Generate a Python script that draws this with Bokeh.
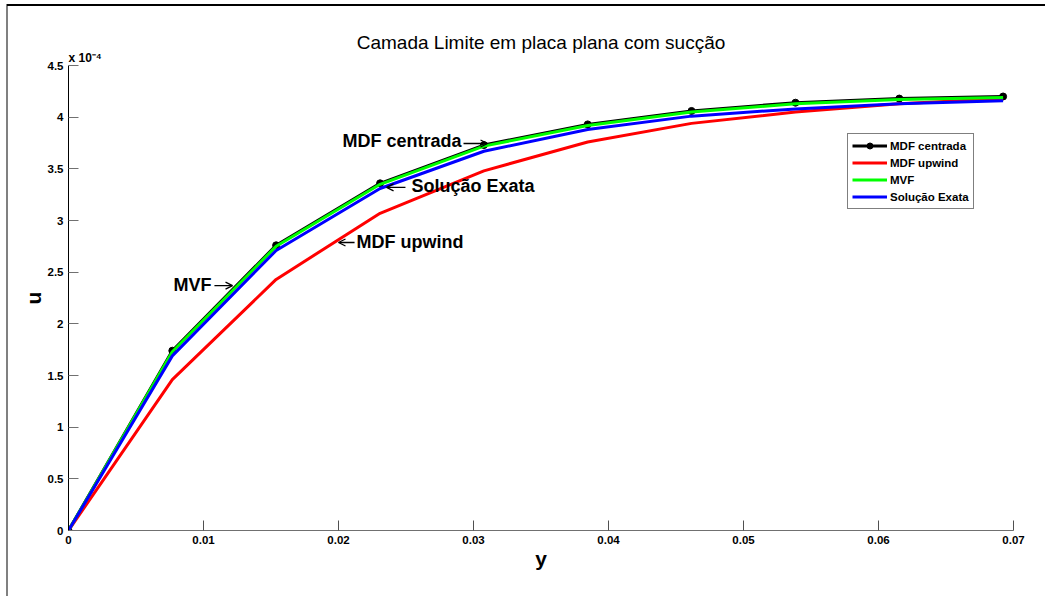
from bokeh.plotting import figure
from bokeh.models import (Label, Legend, LegendItem, FixedTicker, Title,
                          CustomJSTickFormatter, Range1d, Arrow, OpenHead)
from bokeh.embed import file_html
from bokeh.resources import INLINE

# distance from the plate (m) and velocity profiles u(y)
y_pos = [0.0, 0.00769, 0.01538, 0.02308, 0.03077, 0.03846,
         0.04615, 0.05385, 0.06154, 0.06923]
u_centrada = [0.0, 1.74e-4, 2.76e-4, 3.36e-4, 3.73e-4, 3.93e-4,
              4.06e-4, 4.14e-4, 4.18e-4, 4.20e-4]
u_upwind = [0.0, 1.46e-4, 2.43e-4, 3.07e-4, 3.48e-4, 3.76e-4,
            3.94e-4, 4.05e-4, 4.13e-4, 4.18e-4]
u_mvf = [0.0, 1.73e-4, 2.75e-4, 3.35e-4, 3.72e-4, 3.92e-4,
         4.05e-4, 4.13e-4, 4.17e-4, 4.19e-4]
u_exata = [0.0, 1.69e-4, 2.71e-4, 3.31e-4, 3.67e-4, 3.88e-4,
           4.01e-4, 4.08e-4, 4.13e-4, 4.16e-4]

x_ticks = [0, 0.01, 0.02, 0.03, 0.04, 0.05, 0.06, 0.07]
y_ticks = [0, 0.5e-4, 1e-4, 1.5e-4, 2e-4, 2.5e-4, 3e-4, 3.5e-4, 4e-4, 4.5e-4]

FONT = "Liberation Sans"

p = figure(width=1045, height=596,
           x_range=Range1d(0, 0.07), y_range=Range1d(0, 4.5e-4),
           output_backend="svg", toolbar_location=None, tools="",
           min_border_left=68, min_border_right=32,
           min_border_top=65, min_border_bottom=66,
           background_fill_color="white", border_fill_color=None)
p.outline_line_color = None
p.grid.visible = False

# window edges: black line on top, grey line on the left
p.styles = {
    "background-color": "white",
    "background-image": "linear-gradient(#000000, #000000), "
                        "linear-gradient(#808080, #808080)",
    "background-size": "100% 2px, 2px 100%",
    "background-position": "7px 4px, 6px 4px",
    "background-repeat": "no-repeat",
}

# power-of-ten factor for the u axis, right above the frame
p.add_layout(Title(text="x 10\u207b\u2074", align="left", offset=0,
                   standoff=2, text_font=FONT, text_font_style="bold",
                   text_font_size="12px", text_color="black"), "above")

p.title.text = "Camada Limite em placa plana com sucção"
p.title.align = "center"
p.title.text_font = FONT
p.title.text_font_size = "19px"
p.title.text_font_style = "normal"
p.title.text_color = "black"
p.title.standoff = -11

for ax in (p.xaxis[0], p.yaxis[0]):
    ax.major_tick_in = 10
    ax.major_tick_out = 0
    ax.minor_tick_line_color = None
    ax.major_label_text_font = FONT
    ax.major_label_text_font_style = "bold"
    ax.major_label_text_font_size = "11.5px"
    ax.major_label_text_color = "black"
    ax.axis_label_text_font = FONT
    ax.axis_label_text_font_style = "bold"
    ax.axis_label_text_font_size = "21px"
    ax.axis_label_text_color = "black"

xa = p.xaxis[0]
xa.ticker = FixedTicker(ticks=x_ticks)
xa.formatter = CustomJSTickFormatter(code="return tick == 0 ? '0' : tick.toFixed(2);")
xa.axis_label = "y"
xa.axis_line_color = "#707070"
xa.major_tick_line_color = "#505050"
xa.major_label_standoff = 5
xa.axis_label_standoff = 0

ya = p.yaxis[0]
ya.ticker = FixedTicker(ticks=y_ticks)
ya.formatter = CustomJSTickFormatter(code="return String(+(tick * 1e4).toFixed(1));")
ya.axis_label = "u"
ya.axis_line_color = "black"
ya.major_tick_line_color = "#707070"
ya.major_label_standoff = 5
ya.axis_label_standoff = 0

lw = 3
r_c = p.line(y_pos, u_centrada, line_color="black", line_width=lw)
r_cm = p.scatter(y_pos, u_centrada, size=7, fill_color="black",
                 line_color="black")
r_up = p.line(y_pos, u_upwind, line_color="#ff0000", line_width=lw)
r_mvf = p.line(y_pos, u_mvf, line_color="#00ff00", line_width=lw)
r_ex = p.line(y_pos, u_exata, line_color="#0000ff", line_width=lw)

legend = Legend(items=[
    LegendItem(label="MDF centrada", renderers=[r_c, r_cm]),
    LegendItem(label="MDF upwind", renderers=[r_up]),
    LegendItem(label="MVF", renderers=[r_mvf]),
    LegendItem(label="Solução Exata", renderers=[r_ex]),
], location=(779, 321))
legend.border_line_color = "black"
legend.border_line_width = 1
legend.background_fill_color = "white"
legend.background_fill_alpha = 1
legend.label_text_font = FONT
legend.label_text_font_style = "bold"
legend.label_text_font_size = "11.5px"
legend.label_text_color = "black"
legend.glyph_width = 35
legend.glyph_height = 15
legend.label_height = 15
legend.spacing = 2
legend.padding = 4
legend.margin = 0
legend.label_standoff = 3
p.add_layout(legend)

# curve annotations: text plus a thin pointer arrow
ann_style = dict(text_font=FONT, text_font_style="bold",
                 text_font_size="18px", text_baseline="middle",
                 text_color="black")


def pointer(x_tail, x_tip, y):
    p.add_layout(Arrow(x_start=x_tail, y_start=y, x_end=x_tip, y_end=y,
                       line_width=1.3, line_color="black",
                       end=OpenHead(size=7, line_width=1.3,
                                    line_color="black")))


p.add_layout(Label(x=0.02911, y=3.765e-4, text="MDF centrada",
                   text_align="right", **ann_style))
pointer(0.02926, 0.03104, 3.745e-4)

p.add_layout(Label(x=0.02541, y=3.33e-4, text="Solução Exata",
                   text_align="left", **ann_style))
pointer(0.02496, 0.02356, 3.32e-4)

p.add_layout(Label(x=0.02133, y=2.79e-4, text="MDF upwind",
                   text_align="left", **ann_style))
pointer(0.02119, 0.0200, 2.787e-4)

p.add_layout(Label(x=0.01059, y=2.38e-4, text="MVF",
                   text_align="right", **ann_style))
pointer(0.01081, 0.01215, 2.37e-4)

open("out.html", "w").write(file_html(p, INLINE))
